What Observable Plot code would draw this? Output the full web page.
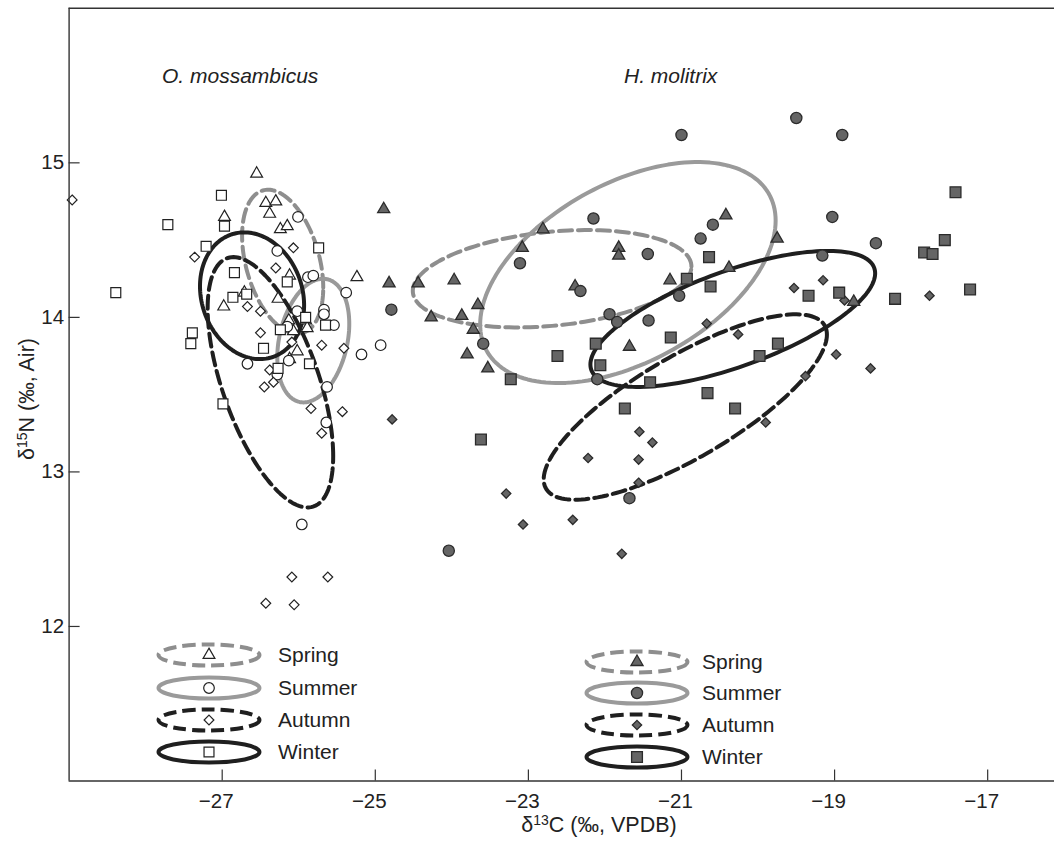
<!DOCTYPE html>
<html><head><meta charset="utf-8">
<script src="https://cdn.jsdelivr.net/npm/d3@7"></script>
<script src="https://cdn.jsdelivr.net/npm/@observablehq/plot@0.6"></script>
<style>body{margin:0;background:#fff} svg{display:block}</style>
</head><body><div id="chart"></div><script>
// ---- data (δ13C, δ15N) ----
const xTicks = [-27, -25, -23, -21, -19, -17];
const yTicks = [12, 13, 14, 15];
const seasons = ["Spring", "Summer", "Autumn", "Winter"];
const speciesNames = ["O. mossambicus", "H. molitrix"];

const omSpring = [[-26.55,14.93],[-26.97,14.65],[-26.43,14.74],[-26.30,14.75],[-26.38,14.67],[-26.24,14.57],[-26.15,14.59],[-25.24,14.26],[-26.12,14.27],[-26.71,14.16],[-26.27,14.12],[-26.98,14.07],[-26.13,13.98],[-25.91,13.98],[-26.07,13.91],[-25.89,13.93],[-26.02,13.78],[-26.12,13.73]];
const omSummer = [[-26.01,14.65],[-26.28,14.43],[-25.88,14.26],[-25.81,14.27],[-25.38,14.16],[-26.02,14.04],[-25.67,14.05],[-25.67,14.02],[-25.54,13.95],[-26.15,13.94],[-24.93,13.82],[-25.18,13.76],[-26.67,13.70],[-26.13,13.72],[-26.28,13.63],[-25.63,13.55],[-25.64,13.32],[-25.96,12.66]];
const omAutumn = [[-28.96,14.76],[-27.36,14.39],[-26.07,14.45],[-26.30,14.32],[-26.67,14.07],[-26.50,14.04],[-26.50,13.90],[-26.09,13.84],[-25.70,13.82],[-25.41,13.80],[-26.38,13.66],[-26.33,13.58],[-26.45,13.55],[-25.84,13.41],[-25.43,13.39],[-25.70,13.25],[-26.09,12.32],[-25.62,12.32],[-26.43,12.15],[-26.06,12.14]];
const omWinter = [[-27.01,14.79],[-26.97,14.59],[-27.71,14.60],[-27.21,14.46],[-25.74,14.45],[-28.39,14.16],[-26.84,14.29],[-26.15,14.23],[-26.86,14.13],[-26.68,14.15],[-27.39,13.90],[-27.41,13.83],[-26.46,13.80],[-25.91,14.00],[-26.24,13.92],[-25.65,13.95],[-25.86,13.70],[-26.27,13.67],[-26.99,13.44]];

const hmSpring = [[-24.89,14.70],[-24.82,14.22],[-24.44,14.22],[-23.97,14.24],[-24.27,14.00],[-23.87,14.01],[-23.66,14.08],[-23.72,13.92],[-23.80,13.76],[-23.53,13.67],[-23.08,14.45],[-22.81,14.57],[-21.82,14.45],[-21.82,14.40],[-22.39,14.20],[-21.15,14.24],[-21.68,13.81],[-20.42,14.66],[-19.75,14.51],[-20.38,14.32],[-18.75,14.10]];
const hmSummer = [[-21.00,15.18],[-22.15,14.64],[-23.11,14.35],[-21.44,14.41],[-22.32,14.17],[-24.79,14.05],[-23.59,13.83],[-21.94,14.02],[-21.84,13.97],[-21.43,13.98],[-21.03,14.14],[-20.75,14.51],[-20.59,14.60],[-19.50,15.29],[-18.90,15.18],[-19.03,14.65],[-18.46,14.48],[-19.16,14.40],[-22.10,13.60],[-21.68,12.83],[-24.04,12.49]];
const hmAutumn = [[-20.67,13.96],[-20.26,13.89],[-19.53,14.19],[-19.15,14.24],[-18.87,14.11],[-17.76,14.14],[-18.98,13.76],[-18.53,13.67],[-19.38,13.62],[-19.90,13.32],[-21.55,13.26],[-21.38,13.19],[-22.22,13.09],[-21.56,13.08],[-21.56,12.93],[-23.29,12.86],[-23.07,12.66],[-22.42,12.69],[-21.78,12.47],[-24.78,13.34]];
const hmWinter = [[-20.64,14.39],[-20.93,14.25],[-20.62,14.20],[-22.12,13.83],[-21.14,13.87],[-22.62,13.75],[-17.42,14.81],[-17.56,14.50],[-17.83,14.42],[-17.72,14.41],[-17.23,14.18],[-18.21,14.12],[-18.94,14.16],[-19.34,14.14],[-19.74,13.83],[-19.98,13.75],[-22.06,13.69],[-23.23,13.60],[-21.41,13.58],[-20.66,13.51],[-21.74,13.41],[-20.30,13.41],[-23.62,13.21]];

// standard ellipses: centre, half-extents, correlation
const omEllipses = [
  {season:"Spring", cx:-26.21, cy:14.36, sx:0.53, sy:0.466, rho:-0.36},
  {season:"Summer", cx:-25.81, cy:13.85, sx:0.47, sy:0.40,  rho:0.27},
  {season:"Autumn", cx:-26.37, cy:13.58, sx:0.82, sy:0.81,  rho:-0.59},
  {season:"Winter", cx:-26.61, cy:14.14, sx:0.68, sy:0.41,  rho:-0.15}
];
const hmEllipses = [
  {season:"Spring", cx:-22.69, cy:14.25, sx:1.82, sy:0.315, rho:0.25},
  {season:"Summer", cx:-21.70, cy:14.29, sx:1.93, sy:0.715, rho:0.47},
  {season:"Autumn", cx:-20.95, cy:13.42, sx:1.85, sy:0.60,  rho:0.78},
  {season:"Winter", cx:-20.33, cy:13.99, sx:1.86, sy:0.44,  rho:0.67}
];

// ---- layout / styles ----
const W = 1054, H = 841;
const M = {top: 7.8, right: 0, bottom: 60.5, left: 68.6};
const xDomain = [-29, -16.127], yDomain = [11, 16];
const innerW = W - M.left - M.right, innerH = H - M.top - M.bottom;
const FONT = "'Liberation Sans', Arial, Helvetica, sans-serif";
const INK = "#222";
const style = {
  Spring: {stroke: "#8e8e8e", dash: "13,6", symbol: "triangle", rOpen: 4.4, rFill: 4.5},
  Summer: {stroke: "#9a9a9a", dash: null,   symbol: "circle",   rOpen: 5.3, rFill: 5.6},
  Autumn: {stroke: "#1f1f1f", dash: "13,6", symbol: "diamond2", rOpen: 4.4, rFill: 4.2},
  Winter: {stroke: "#1f1f1f", dash: null,   symbol: "square",   rOpen: 5.6, rFill: 6.1}
};
const omData = {Spring: omSpring, Summer: omSummer, Autumn: omAutumn, Winter: omWinter};
const hmData = {Spring: hmSpring, Summer: hmSummer, Autumn: hmAutumn, Winter: hmWinter};

function ellipsePts(e, id) {
  const n = 160, k = Math.sqrt(1 - e.rho * e.rho), pts = [];
  for (let i = 0; i < n; i++) {
    const t = 2 * Math.PI * i / n;
    pts.push({id, x: e.cx + e.sx * Math.cos(t), y: e.cy + e.sy * (e.rho * Math.cos(t) + k * Math.sin(t))});
  }
  return pts;
}
const rows = arr => arr.map(([x, y]) => ({x, y}));

const marks = [];
// ellipses
for (const s of seasons) {
  const pts = [
    ...ellipsePts(omEllipses.find(e => e.season === s), "om" + s),
    ...ellipsePts(hmEllipses.find(e => e.season === s), "hm" + s)
  ];
  const st = style[s];
  marks.push(Plot.line(pts, {x: "x", y: "y", z: "id", curve: "linear-closed",
    stroke: st.stroke, strokeWidth: 4, ...(st.dash ? {strokeDasharray: st.dash} : {})}));
}
// points
for (const s of seasons) {
  const st = style[s];
  marks.push(Plot.dot(rows(omData[s]), {x: "x", y: "y", symbol: st.symbol, r: st.rOpen,
    fill: "white", stroke: INK, strokeWidth: 1.2}));
}
for (const s of seasons) {
  const st = style[s];
  marks.push(Plot.dot(rows(hmData[s]), {x: "x", y: "y", symbol: st.symbol, r: st.rFill,
    fill: "#656565", stroke: "#2b2b2b", strokeWidth: 1.3}));
}
// frame (left, top, bottom)
marks.push(Plot.ruleX([xDomain[0]], {stroke: "#333", strokeWidth: 1.4}));
marks.push(Plot.ruleY([yDomain[0], yDomain[1]], {stroke: "#333", strokeWidth: 1.4}));
// inward ticks
marks.push(Plot.ruleX(xTicks, {stroke: "#333", strokeWidth: 1.2, insetTop: innerH - 11}));
marks.push(Plot.ruleY(yTicks, {stroke: "#333", strokeWidth: 1.2, insetRight: innerW - 11}));
// tick labels
const fmt = d3.format("d");
marks.push(Plot.text(xTicks, {x: d => d, frameAnchor: "bottom", lineAnchor: "top", dy: 12, dx: -6,
  text: d => fmt(d), fontSize: 20.5, fill: INK}));
marks.push(Plot.text(yTicks, {y: d => d, frameAnchor: "left", textAnchor: "end", dx: -5,
  text: d => fmt(d), fontSize: 20.5, fill: INK}));

const chart = Plot.plot({
  width: W, height: H,
  marginTop: M.top, marginRight: M.right, marginBottom: M.bottom, marginLeft: M.left,
  x: {domain: xDomain, axis: null},
  y: {domain: yDomain, axis: null},
  style: {fontFamily: FONT, fontSize: "20px", background: "white", color: INK, overflow: "visible"},
  marks
});
document.getElementById("chart").appendChild(chart);

// ---- titles, labels and legends ----
const svg = d3.select(chart);
function supText(sel, parts) {
  sel.append("tspan").text(parts[0]);
  sel.append("tspan").attr("font-size", 14).attr("dy", -7).text(parts[1]);
  sel.append("tspan").attr("font-size", 21.5).attr("dy", 7).text(parts[2]);
}
supText(svg.append("text").attr("x", 599).attr("y", 832).attr("text-anchor", "middle")
  .attr("font-size", 21.5).attr("fill", INK).attr("font-family", FONT), ["δ", "13", "C (‰, VPDB)"]);
supText(svg.append("text").attr("transform", "translate(34,399) rotate(-90)").attr("text-anchor", "middle")
  .attr("font-size", 21.5).attr("fill", INK).attr("font-family", FONT), ["δ", "15", "N (‰, Air)"]);

svg.append("text").attr("x", 162).attr("y", 83).attr("text-anchor", "start").attr("font-style", "italic")
  .attr("font-size", 21).attr("fill", INK).attr("font-family", FONT).text(speciesNames[0]);
svg.append("text").attr("x", 624).attr("y", 83).attr("text-anchor", "start").attr("font-style", "italic")
  .attr("font-size", 21).attr("fill", INK).attr("font-family", FONT).text(speciesNames[1]);

const symMap = {triangle: d3.symbolTriangle, circle: d3.symbolCircle, diamond2: d3.symbolDiamond2, square: d3.symbolSquare};
function legend(cx, rowY, textX, filled) {
  const g = svg.append("g");
  seasons.forEach((s, i) => {
    const st = style[s], y = rowY[i];
    g.append("ellipse").attr("cx", cx).attr("cy", y).attr("rx", 50.5).attr("ry", 10.5)
      .attr("fill", "none").attr("stroke", st.stroke).attr("stroke-width", 4)
      .attr("stroke-dasharray", st.dash);
    const r = filled ? st.rFill : st.rOpen;
    g.append("path").attr("transform", `translate(${cx},${y})`)
      .attr("d", d3.symbol(symMap[st.symbol], Math.PI * r * r)())
      .attr("fill", filled ? "#656565" : "white").attr("stroke", filled ? "#2b2b2b" : INK)
      .attr("stroke-width", filled ? 1.3 : 1.2);
    g.append("text").attr("x", textX).attr("y", y).attr("dy", "0.35em").attr("text-anchor", "start")
      .attr("font-size", 21).attr("fill", INK).attr("font-family", FONT).text(s);
  });
}
legend(209, [655, 688, 720, 752], 278, false);
legend(637, [662, 693, 725, 757], 702, true);
</script></body></html>
